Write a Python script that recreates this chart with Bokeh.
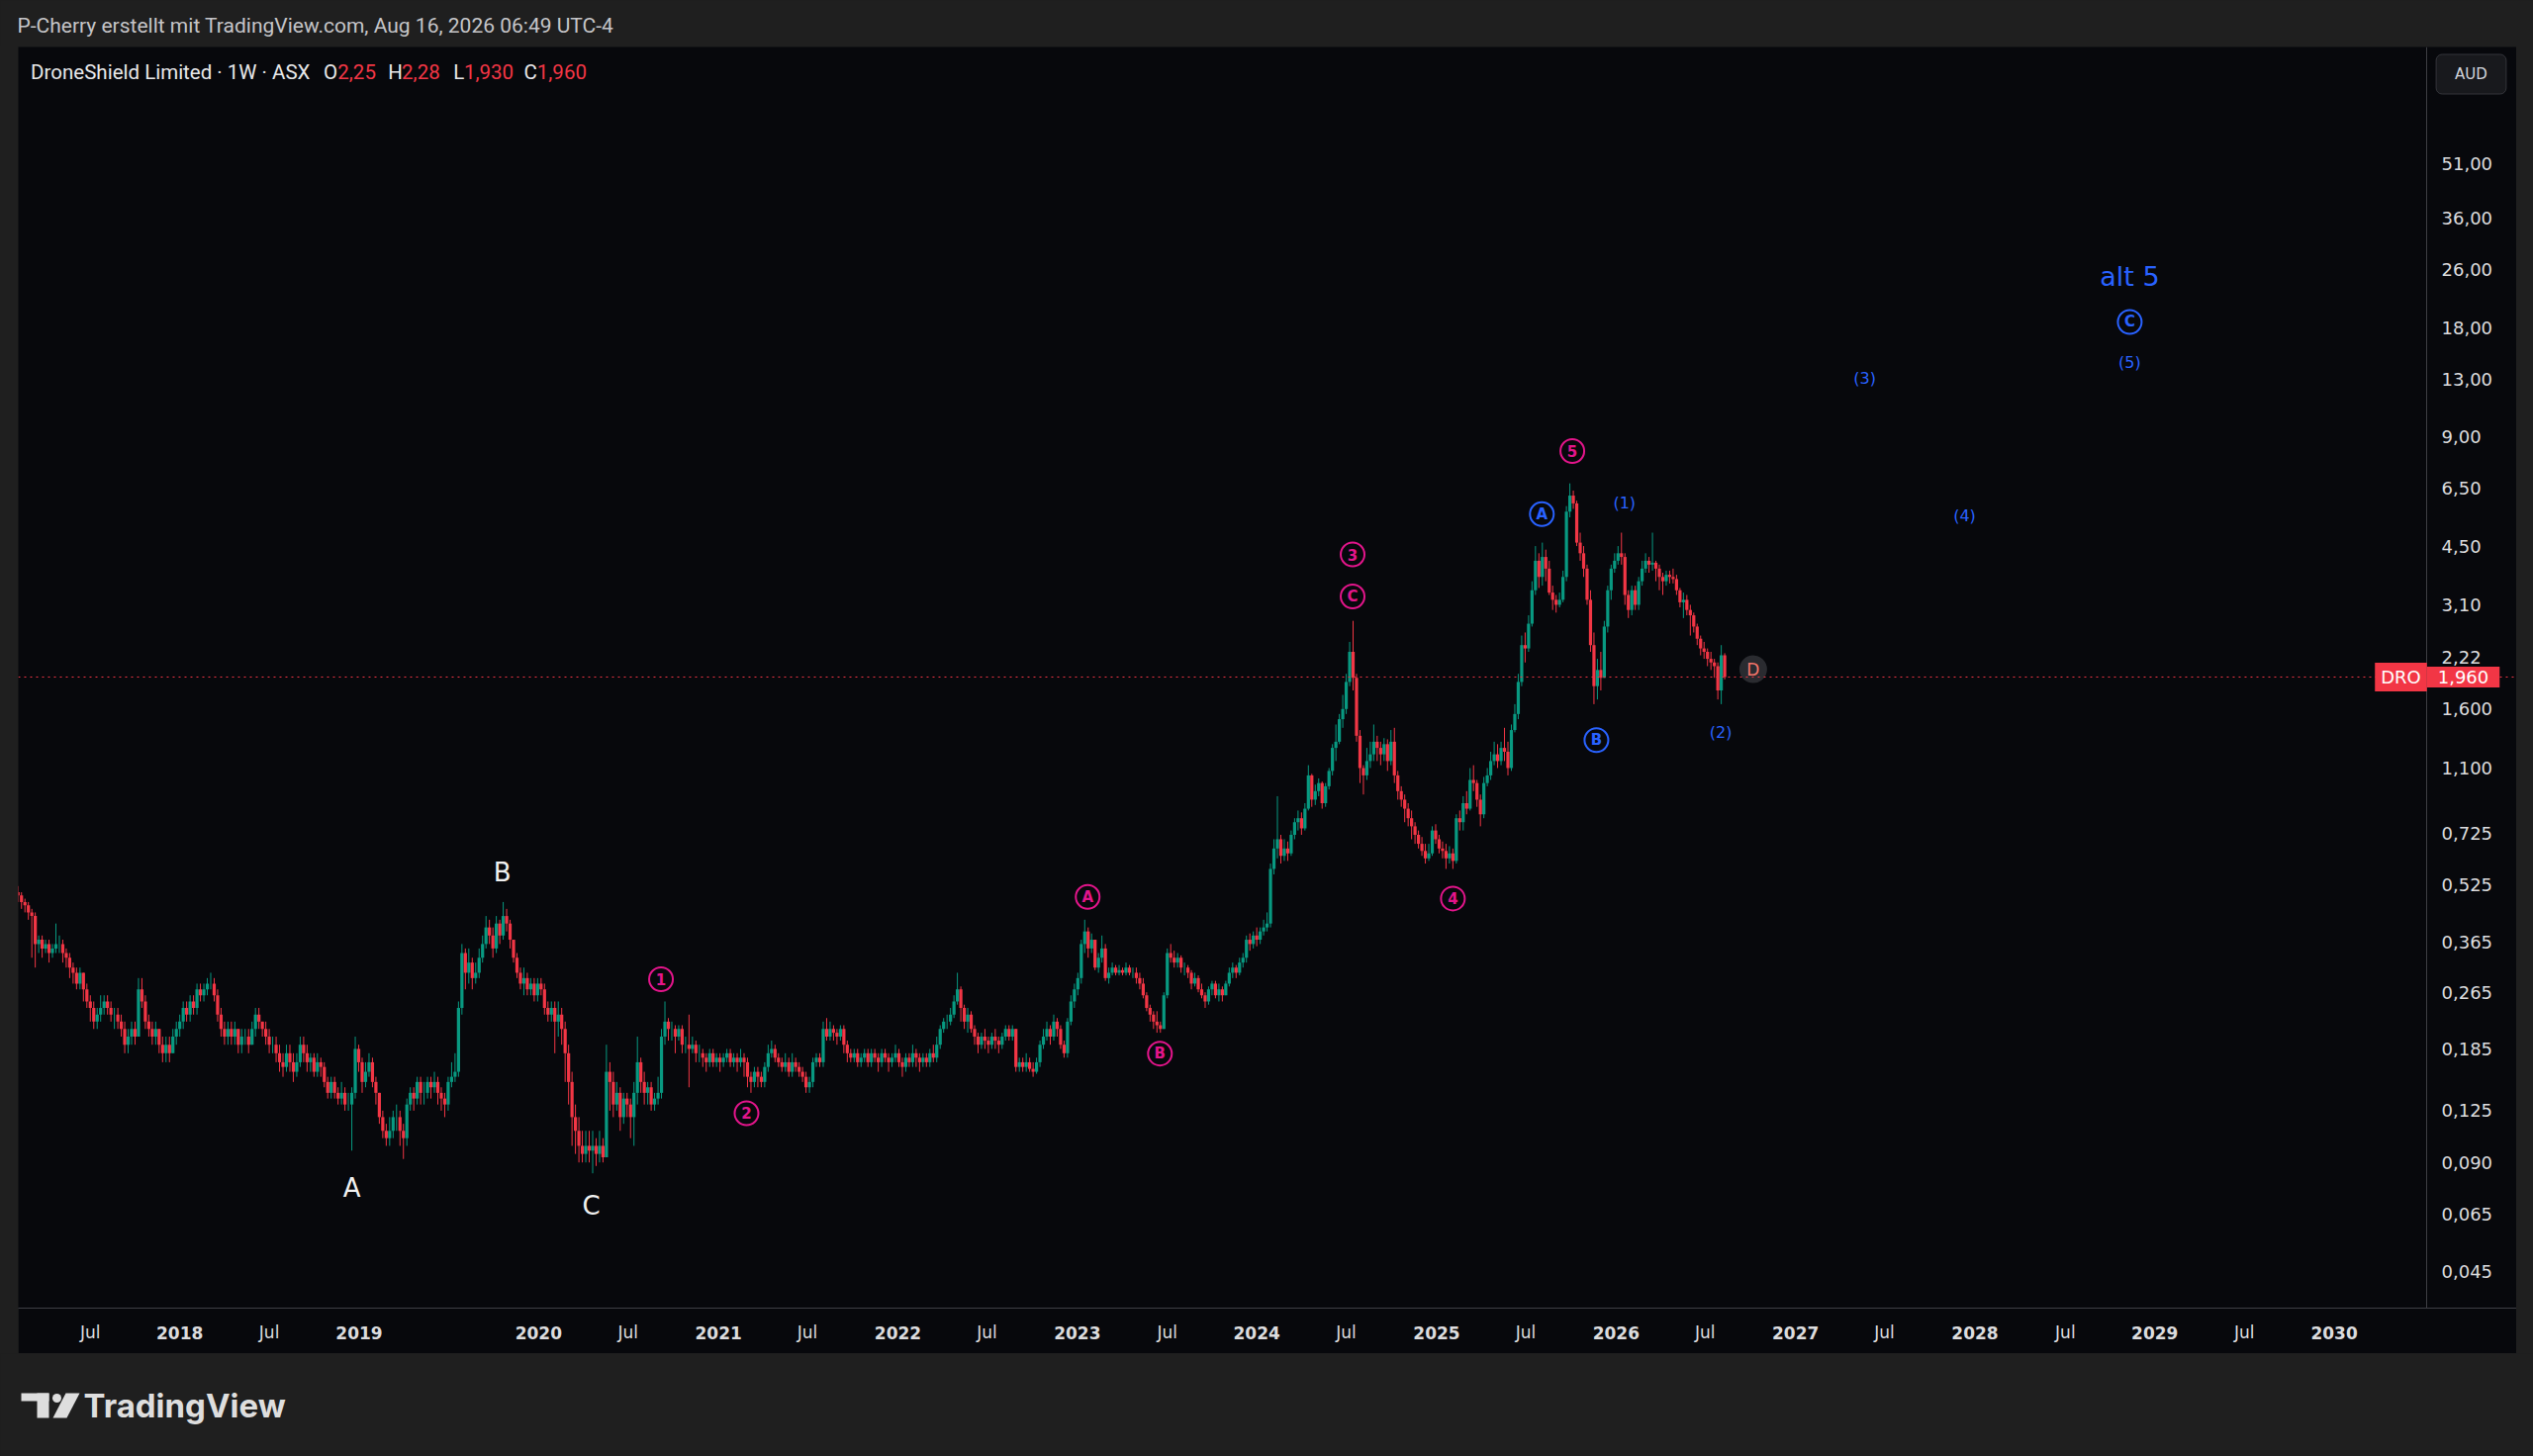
import numpy as np
import pandas as pd
from datetime import datetime
from bokeh.plotting import figure
from bokeh.models import (Range1d, FixedTicker, Span, Label, Spacer, ColumnDataSource,
                          DatetimeAxis)
from bokeh.layouts import column, row
from bokeh.embed import file_html
from bokeh.resources import INLINE
from bokeh.core.properties import value

# ---------------- data (weekly candles, DRO) ----------------
last_bar_date = "2026-08-10"
first_open = 0.50
closes = [
    0.49, 0.47, 0.46, 0.44, 0.43, 0.36, 0.37, 0.35, 0.36, 0.34, 0.35, 0.36,
    0.36, 0.34, 0.33, 0.31, 0.30, 0.28, 0.30, 0.27, 0.25, 0.24, 0.22, 0.23,
    0.24, 0.25, 0.24, 0.23, 0.23, 0.22, 0.21, 0.19, 0.20, 0.21, 0.20, 0.27,
    0.25, 0.22, 0.21, 0.20, 0.21, 0.19, 0.18, 0.19, 0.18, 0.20, 0.21, 0.22,
    0.24, 0.23, 0.25, 0.24, 0.27, 0.26, 0.27, 0.28, 0.28, 0.26, 0.23, 0.21,
    0.20, 0.21, 0.20, 0.21, 0.19, 0.20, 0.20, 0.19, 0.21, 0.23, 0.22, 0.21,
    0.20, 0.19, 0.19, 0.18, 0.17, 0.165, 0.18, 0.17, 0.16, 0.17, 0.19, 0.18,
    0.17, 0.175, 0.16, 0.17, 0.165, 0.15, 0.14, 0.15, 0.14, 0.135, 0.14, 0.13,
    0.13, 0.14, 0.185, 0.17, 0.15, 0.16, 0.17, 0.15, 0.14, 0.12, 0.11, 0.105,
    0.11, 0.12, 0.12, 0.11, 0.105, 0.13, 0.14, 0.135, 0.15, 0.14, 0.14, 0.15,
    0.145, 0.15, 0.14, 0.135, 0.13, 0.15, 0.155, 0.16, 0.24, 0.34, 0.30, 0.32,
    0.29, 0.30, 0.33, 0.36, 0.40, 0.38, 0.35, 0.41, 0.38, 0.43, 0.41, 0.37,
    0.33, 0.30, 0.28, 0.29, 0.27, 0.28, 0.26, 0.28, 0.27, 0.24, 0.23, 0.24,
    0.22, 0.23, 0.21, 0.18, 0.15, 0.12, 0.11, 0.10, 0.095, 0.10, 0.097, 0.10,
    0.095, 0.10, 0.093, 0.16, 0.15, 0.13, 0.14, 0.12, 0.135, 0.13, 0.12, 0.14,
    0.17, 0.15, 0.14, 0.145, 0.13, 0.135, 0.14, 0.20, 0.22, 0.21, 0.21, 0.20,
    0.21, 0.19, 0.19, 0.185, 0.19, 0.18, 0.18, 0.175, 0.17, 0.18, 0.17, 0.175,
    0.17, 0.175, 0.18, 0.17, 0.175, 0.17, 0.175, 0.17, 0.155, 0.15, 0.16, 0.155,
    0.15, 0.165, 0.18, 0.185, 0.175, 0.17, 0.165, 0.17, 0.16, 0.17, 0.165, 0.16,
    0.155, 0.145, 0.15, 0.17, 0.175, 0.17, 0.21, 0.20, 0.21, 0.205, 0.20, 0.21,
    0.19, 0.18, 0.175, 0.18, 0.17, 0.175, 0.18, 0.17, 0.18, 0.175, 0.17, 0.18,
    0.175, 0.17, 0.175, 0.18, 0.17, 0.165, 0.175, 0.17, 0.18, 0.175, 0.17, 0.175,
    0.17, 0.18, 0.175, 0.19, 0.21, 0.22, 0.22, 0.23, 0.25, 0.27, 0.24, 0.22,
    0.23, 0.21, 0.20, 0.19, 0.20, 0.195, 0.19, 0.20, 0.195, 0.19, 0.20, 0.21,
    0.20, 0.21, 0.165, 0.17, 0.165, 0.17, 0.163, 0.16, 0.17, 0.19, 0.20, 0.21,
    0.20, 0.22, 0.21, 0.19, 0.18, 0.22, 0.25, 0.27, 0.29, 0.36, 0.39, 0.35,
    0.37, 0.31, 0.33, 0.35, 0.29, 0.30, 0.31, 0.30, 0.305, 0.30, 0.31, 0.30,
    0.30, 0.29, 0.28, 0.26, 0.24, 0.23, 0.22, 0.215, 0.21, 0.26, 0.34, 0.33,
    0.32, 0.33, 0.31, 0.31, 0.30, 0.28, 0.29, 0.27, 0.26, 0.25, 0.27, 0.28,
    0.26, 0.27, 0.26, 0.28, 0.30, 0.31, 0.30, 0.32, 0.33, 0.37, 0.36, 0.38,
    0.37, 0.39, 0.40, 0.41, 0.58, 0.66, 0.70, 0.63, 0.66, 0.64, 0.72, 0.78,
    0.80, 0.75, 0.85, 1.05, 0.90, 0.95, 1.00, 0.88, 0.98, 1.08, 1.25, 1.30,
    1.50, 1.60, 1.90, 2.30, 1.95, 1.35, 1.10, 1.05, 1.15, 1.20, 1.30, 1.25,
    1.20, 1.28, 1.15, 1.30, 1.05, 0.95, 0.90, 0.85, 0.80, 0.76, 0.72, 0.68,
    0.65, 0.62, 0.64, 0.74, 0.70, 0.66, 0.65, 0.62, 0.64, 0.61, 0.80, 0.78,
    0.88, 0.85, 1.02, 1.00, 0.90, 0.82, 1.00, 1.05, 1.15, 1.20, 1.15, 1.25,
    1.22, 1.10, 1.40, 1.55, 1.90, 2.40, 2.35, 2.75, 3.40, 4.10, 3.70, 4.20,
    3.90, 3.35, 3.20, 3.10, 3.20, 3.70, 5.60, 6.20, 5.90, 4.60, 4.30, 3.90,
    3.20, 2.40, 1.85, 2.05, 1.95, 2.70, 3.40, 3.90, 4.10, 4.30, 4.20, 3.30,
    3.00, 3.40, 3.10, 3.60, 3.90, 4.10, 4.00, 4.05, 3.90, 3.70, 3.60, 3.75,
    3.70, 3.65, 3.40, 3.15, 3.20, 3.00, 2.90, 2.70, 2.50, 2.35, 2.30, 2.20,
    2.15, 2.10, 1.80, 2.25, 1.96,
]
highs = [
    0.52, 0.50, 0.48, 0.47, 0.45, 0.44, 0.38, 0.38, 0.37, 0.37, 0.36, 0.41,
    0.38, 0.37, 0.35, 0.34, 0.32, 0.31, 0.31, 0.30, 0.28, 0.26, 0.25, 0.24,
    0.26, 0.26, 0.26, 0.25, 0.24, 0.24, 0.23, 0.22, 0.21, 0.22, 0.22, 0.29,
    0.29, 0.26, 0.23, 0.22, 0.22, 0.21, 0.20, 0.20, 0.20, 0.21, 0.22, 0.23,
    0.25, 0.25, 0.26, 0.26, 0.28, 0.28, 0.28, 0.29, 0.30, 0.29, 0.27, 0.24,
    0.22, 0.22, 0.22, 0.22, 0.21, 0.21, 0.21, 0.21, 0.22, 0.24, 0.24, 0.22,
    0.22, 0.21, 0.20, 0.20, 0.19, 0.18, 0.19, 0.19, 0.18, 0.18, 0.20, 0.20,
    0.19, 0.18, 0.18, 0.18, 0.175, 0.17, 0.155, 0.155, 0.155, 0.145, 0.15, 0.145,
    0.14, 0.145, 0.20, 0.19, 0.175, 0.17, 0.18, 0.175, 0.155, 0.14, 0.125, 0.115,
    0.12, 0.125, 0.13, 0.125, 0.115, 0.135, 0.145, 0.145, 0.155, 0.155, 0.15, 0.155,
    0.155, 0.16, 0.155, 0.145, 0.14, 0.155, 0.17, 0.18, 0.25, 0.36, 0.35, 0.35,
    0.33, 0.32, 0.35, 0.38, 0.43, 0.42, 0.40, 0.43, 0.42, 0.47, 0.45, 0.42,
    0.37, 0.34, 0.31, 0.31, 0.30, 0.29, 0.29, 0.29, 0.29, 0.28, 0.25, 0.25,
    0.25, 0.25, 0.24, 0.22, 0.19, 0.16, 0.13, 0.12, 0.11, 0.11, 0.11, 0.11,
    0.105, 0.11, 0.105, 0.19, 0.17, 0.16, 0.15, 0.145, 0.14, 0.14, 0.135, 0.15,
    0.20, 0.175, 0.16, 0.15, 0.15, 0.14, 0.155, 0.21, 0.25, 0.225, 0.22, 0.215,
    0.215, 0.215, 0.20, 0.23, 0.20, 0.195, 0.19, 0.185, 0.18, 0.185, 0.185, 0.18,
    0.18, 0.18, 0.185, 0.185, 0.18, 0.18, 0.185, 0.18, 0.175, 0.16, 0.165, 0.165,
    0.16, 0.17, 0.19, 0.195, 0.19, 0.18, 0.175, 0.18, 0.175, 0.18, 0.175, 0.17,
    0.165, 0.16, 0.155, 0.175, 0.18, 0.18, 0.22, 0.225, 0.22, 0.215, 0.21, 0.215,
    0.215, 0.195, 0.185, 0.185, 0.185, 0.18, 0.185, 0.185, 0.185, 0.185, 0.18, 0.185,
    0.185, 0.18, 0.18, 0.19, 0.185, 0.175, 0.18, 0.18, 0.19, 0.185, 0.18, 0.18,
    0.18, 0.185, 0.19, 0.20, 0.215, 0.225, 0.23, 0.24, 0.26, 0.30, 0.275, 0.245,
    0.24, 0.235, 0.215, 0.205, 0.205, 0.21, 0.20, 0.205, 0.21, 0.20, 0.205, 0.215,
    0.215, 0.215, 0.21, 0.175, 0.175, 0.18, 0.175, 0.17, 0.175, 0.195, 0.21, 0.22,
    0.215, 0.23, 0.225, 0.215, 0.195, 0.225, 0.26, 0.28, 0.30, 0.37, 0.42, 0.40,
    0.385, 0.37, 0.34, 0.38, 0.36, 0.31, 0.32, 0.315, 0.315, 0.31, 0.32, 0.315,
    0.31, 0.31, 0.30, 0.29, 0.265, 0.245, 0.235, 0.235, 0.22, 0.265, 0.35, 0.36,
    0.345, 0.34, 0.335, 0.32, 0.315, 0.305, 0.30, 0.295, 0.28, 0.265, 0.275, 0.285,
    0.285, 0.28, 0.275, 0.285, 0.31, 0.32, 0.315, 0.33, 0.34, 0.38, 0.385, 0.39,
    0.40, 0.40, 0.42, 0.44, 0.60, 0.70, 0.92, 0.72, 0.70, 0.69, 0.74, 0.80,
    0.84, 0.83, 0.88, 1.12, 1.06, 0.99, 1.03, 1.01, 1.00, 1.10, 1.28, 1.45,
    1.55, 1.75, 2.00, 2.45, 2.80, 2.00, 1.40, 1.12, 1.25, 1.30, 1.45, 1.35,
    1.30, 1.33, 1.32, 1.40, 1.42, 1.08, 0.98, 0.93, 0.88, 0.84, 0.78, 0.74,
    0.71, 0.68, 0.68, 0.76, 0.77, 0.72, 0.69, 0.68, 0.67, 0.66, 0.82, 0.84,
    0.92, 0.95, 1.10, 1.12, 1.02, 0.93, 1.04, 1.10, 1.22, 1.30, 1.28, 1.30,
    1.42, 1.30, 1.45, 1.65, 2.00, 2.55, 2.60, 2.90, 3.60, 4.50, 4.30, 4.60,
    4.40, 4.10, 3.50, 3.30, 3.35, 3.85, 5.80, 6.70, 6.40, 6.00, 4.90, 4.50,
    4.00, 3.40, 2.60, 2.20, 2.30, 2.80, 3.50, 4.00, 4.30, 4.50, 4.90, 4.30,
    3.40, 3.50, 3.50, 3.70, 4.10, 4.30, 4.20, 4.90, 4.10, 4.00, 3.80, 3.85,
    3.85, 3.90, 3.75, 3.45, 3.35, 3.30, 3.10, 2.95, 2.75, 2.55, 2.45, 2.35,
    2.30, 2.20, 2.15, 2.40, 2.28,
]
lows = [
    0.47, 0.45, 0.44, 0.42, 0.33, 0.31, 0.34, 0.33, 0.34, 0.32, 0.33, 0.34,
    0.34, 0.32, 0.31, 0.29, 0.28, 0.27, 0.27, 0.25, 0.24, 0.22, 0.21, 0.21,
    0.22, 0.23, 0.23, 0.22, 0.21, 0.21, 0.20, 0.18, 0.18, 0.19, 0.19, 0.20,
    0.24, 0.21, 0.20, 0.19, 0.19, 0.18, 0.17, 0.17, 0.17, 0.18, 0.19, 0.20,
    0.21, 0.22, 0.22, 0.23, 0.23, 0.25, 0.25, 0.26, 0.27, 0.25, 0.22, 0.20,
    0.19, 0.19, 0.19, 0.19, 0.18, 0.18, 0.19, 0.18, 0.19, 0.20, 0.21, 0.20,
    0.19, 0.18, 0.18, 0.17, 0.16, 0.155, 0.16, 0.16, 0.15, 0.155, 0.165, 0.17,
    0.16, 0.16, 0.155, 0.155, 0.155, 0.145, 0.135, 0.135, 0.135, 0.13, 0.13, 0.125,
    0.125, 0.097, 0.135, 0.16, 0.14, 0.145, 0.155, 0.145, 0.13, 0.115, 0.105, 0.10,
    0.10, 0.105, 0.11, 0.10, 0.092, 0.10, 0.125, 0.125, 0.13, 0.13, 0.13, 0.135,
    0.135, 0.14, 0.13, 0.125, 0.12, 0.125, 0.145, 0.15, 0.155, 0.23, 0.27, 0.28,
    0.27, 0.28, 0.29, 0.32, 0.35, 0.36, 0.33, 0.34, 0.36, 0.37, 0.39, 0.35,
    0.32, 0.29, 0.27, 0.26, 0.26, 0.26, 0.25, 0.25, 0.26, 0.23, 0.22, 0.22,
    0.18, 0.20, 0.19, 0.15, 0.13, 0.10, 0.095, 0.09, 0.09, 0.09, 0.09, 0.084,
    0.088, 0.09, 0.09, 0.093, 0.125, 0.12, 0.125, 0.11, 0.115, 0.12, 0.105, 0.10,
    0.13, 0.14, 0.13, 0.13, 0.125, 0.125, 0.13, 0.135, 0.19, 0.195, 0.195, 0.18,
    0.195, 0.18, 0.18, 0.145, 0.18, 0.17, 0.17, 0.165, 0.16, 0.165, 0.165, 0.165,
    0.16, 0.165, 0.17, 0.165, 0.165, 0.16, 0.165, 0.155, 0.145, 0.14, 0.145, 0.145,
    0.145, 0.145, 0.16, 0.175, 0.17, 0.165, 0.16, 0.16, 0.155, 0.155, 0.16, 0.155,
    0.15, 0.14, 0.14, 0.145, 0.165, 0.165, 0.165, 0.195, 0.195, 0.195, 0.19, 0.195,
    0.18, 0.17, 0.17, 0.17, 0.165, 0.165, 0.17, 0.165, 0.165, 0.17, 0.16, 0.165,
    0.17, 0.16, 0.165, 0.17, 0.165, 0.155, 0.16, 0.165, 0.165, 0.165, 0.16, 0.165,
    0.165, 0.165, 0.17, 0.17, 0.185, 0.205, 0.21, 0.215, 0.225, 0.245, 0.22, 0.21,
    0.205, 0.205, 0.19, 0.18, 0.185, 0.185, 0.18, 0.185, 0.185, 0.18, 0.185, 0.195,
    0.195, 0.195, 0.16, 0.16, 0.16, 0.16, 0.16, 0.155, 0.158, 0.165, 0.185, 0.195,
    0.19, 0.195, 0.20, 0.185, 0.175, 0.175, 0.215, 0.24, 0.26, 0.28, 0.34, 0.33,
    0.34, 0.305, 0.30, 0.32, 0.285, 0.28, 0.295, 0.295, 0.295, 0.295, 0.295, 0.295,
    0.29, 0.28, 0.27, 0.255, 0.235, 0.22, 0.21, 0.205, 0.205, 0.21, 0.255, 0.32,
    0.31, 0.31, 0.30, 0.295, 0.29, 0.27, 0.275, 0.265, 0.255, 0.24, 0.245, 0.26,
    0.255, 0.25, 0.25, 0.26, 0.275, 0.29, 0.29, 0.295, 0.31, 0.32, 0.345, 0.35,
    0.355, 0.36, 0.38, 0.39, 0.40, 0.56, 0.62, 0.60, 0.61, 0.61, 0.63, 0.70,
    0.74, 0.72, 0.74, 0.84, 0.86, 0.87, 0.92, 0.85, 0.86, 0.96, 1.05, 1.15,
    1.28, 1.42, 1.55, 1.85, 1.80, 1.30, 1.00, 0.93, 1.02, 1.10, 1.15, 1.15,
    1.12, 1.15, 1.08, 1.12, 1.00, 0.90, 0.86, 0.78, 0.76, 0.70, 0.68, 0.66,
    0.63, 0.60, 0.61, 0.63, 0.68, 0.64, 0.62, 0.58, 0.60, 0.58, 0.60, 0.74,
    0.74, 0.82, 0.84, 0.95, 0.86, 0.76, 0.80, 0.98, 1.02, 1.12, 1.10, 1.12,
    1.15, 1.05, 1.08, 1.38, 1.50, 1.85, 2.15, 2.30, 2.70, 3.30, 3.45, 3.50,
    3.60, 3.30, 3.00, 2.95, 3.05, 3.15, 3.60, 5.40, 5.70, 4.50, 4.10, 3.70,
    3.10, 2.30, 1.65, 1.70, 1.80, 1.95, 2.60, 3.20, 3.80, 4.00, 4.00, 3.10,
    2.85, 2.90, 3.00, 3.00, 3.50, 3.80, 3.80, 3.85, 3.60, 3.40, 3.30, 3.50,
    3.55, 3.55, 3.30, 3.05, 2.85, 2.90, 2.55, 2.60, 2.40, 2.25, 2.20, 2.10,
    2.05, 1.95, 1.70, 1.65, 1.93,
]
last_price = 1.96

price_ticks = [51.0, 36.0, 26.0, 18.0, 13.0, 9.0, 6.5, 4.5, 3.1, 2.22, 1.6, 1.1,
               0.725, 0.525, 0.365, 0.265, 0.185, 0.125, 0.09, 0.065, 0.045]
price_tick_labels = ["51,00", "36,00", "26,00", "18,00", "13,00", "9,00", "6,50", "4,50",
                     "3,10", "2,22", "1,600", "1,100", "0,725", "0,525", "0,365", "0,265",
                     "0,185", "0,125", "0,090", "0,065", "0,045"]
year_tick_dates = ["2018-01-01", "2019-01-01", "2020-01-01", "2021-01-01", "2022-01-01",
                   "2023-01-01", "2024-01-01", "2025-01-01", "2026-01-01", "2027-01-01",
                   "2028-01-01", "2029-01-01", "2030-01-01"]
year_tick_labels = ["2018", "2019", "2020", "2021", "2022", "2023", "2024", "2025", "2026",
                    "2027", "2028", "2029", "2030"]
month_tick_dates = ["2017-07-03", "2018-07-02", "2020-07-01", "2021-07-01", "2022-07-01",
                    "2023-07-03", "2024-07-01", "2025-07-01", "2026-07-01", "2027-07-01",
                    "2028-07-03", "2029-07-02"]
month_tick_labels = ["Jul"] * len(month_tick_dates)

# Elliott-wave annotations
circ_text = ["1", "2", "A", "B", "3", "C", "4", "5", "A", "B", "C"]
circ_date = ["2020-09-06", "2021-02-27", "2023-01-22", "2023-06-18", "2024-07-14", "2024-07-14",
             "2025-02-03", "2025-10-04", "2025-08-03", "2025-11-22", "2028-11-11"]
circ_price = [0.288, 0.123, 0.4855, 0.1796, 4.267, 3.268, 0.4806, 8.226, 5.513, 1.313, 18.67]
circ_group = ["pink"] * 8 + ["blue"] * 3

wave_text = ["A", "B", "C", "(1)", "(2)", "(3)", "(4)", "(5)"]
wave_date = ["2018-12-17", "2019-10-19", "2020-04-17", "2026-01-18", "2026-08-02",
             "2027-05-22", "2027-12-11", "2028-11-11"]
wave_price = [0.0767, 0.5662, 0.0685, 5.925, 1.382, 13.04, 5.458, 14.45]
wave_group = ["white", "white", "white", "blue", "blue", "blue", "blue", "blue"]

alt_text = "alt 5"
alt_date = "2028-11-11"
alt_price = 24.88
div_date = "2026-10-07"
div_price = 2.06

header_text = "P-Cherry erstellt mit TradingView.com, Aug 16, 2026 06:49 UTC-4"
legend_parts = ["DroneShield Limited · 1W · ASX", "O", "2,25", "H", "2,28", "L", "1,930", "C", "1,960"]
legend_is_value = [False, False, True, False, True, False, True, False, True]

# ---------------- styling / layout constants ----------------
OUTER = "#1f1f1f"
PANEL = "#07080c"
UP = "#089981"
DOWN = "#f23645"
PINK = "#e3158b"
BLUE = "#2962ff"
WHITE = "#f0f0f0"
AXIS_TXT = "#dcdcde"
AXIS_LINE = "#3d3e44"
group_color = {"pink": PINK, "blue": BLUE, "white": WHITE}

PAGE_W, PAGE_H = 2560, 1472
HDR_H = 47
PANEL_L, PANEL_R = 18, 2543
CHART_W = 2434          # price-chart part of the panel (the rest is the price scale strip)
STRIP_W = PANEL_R - PANEL_L - CHART_W
FIG_W = PANEL_R - PANEL_L
FIG_H = 1321
AX_B = 46
FRAME_H = FIG_H - AX_B
FTR_H = PAGE_H - HDR_H - FIG_H

# ---------------- candles ----------------
N = min(len(closes), len(highs), len(lows))
c = np.array(closes[:N], dtype=float)
hh = np.array(highs[:N], dtype=float)
ll = np.array(lows[:N], dtype=float)
o = np.concatenate([[first_open], c[:-1]])
hh = np.maximum(hh, np.maximum(o, c))
ll = np.minimum(ll, np.minimum(o, c))
dates = pd.date_range(end=last_bar_date, periods=N, freq="7D")
up = c >= o
src = ColumnDataSource(dict(x=dates, h=hh, l=ll, top=np.maximum(o, c), bot=np.minimum(o, c),
                            col=np.where(up, UP, DOWN)))

x_start = datetime(2017, 2, 6, 12)
x_sep = datetime(2030, 7, 8)            # date at the price-scale separator
x_end = x_sep + (x_sep - x_start) * STRIP_W / CHART_W

p = figure(width=FIG_W, height=FIG_H, x_axis_type="datetime", y_axis_type="log",
           x_range=Range1d(x_start, x_end), y_range=Range1d(0.0357, 106.9),
           y_axis_location="right", toolbar_location=None, output_backend="svg",
           background_fill_color=PANEL, border_fill_color=PANEL, outline_line_color=None,
           min_border_left=0, min_border_top=0, min_border_right=0, min_border_bottom=AX_B)
p.grid.visible = False

p.segment(x0="x", y0="l", x1="x", y1="h", line_color="col", line_width=1, source=src)
p.vbar(x="x", width=6.5 * 24 * 3600 * 1000, top="top", bottom="bot",
       fill_color="col", line_color=None, source=src)

p.add_layout(Span(location=last_price, dimension="width", line_color=DOWN,
                  line_width=1, line_dash="2 4"))
p.add_layout(Span(location=x_sep, dimension="height", line_color=AXIS_LINE, line_width=1))

# price axis (labels drawn into the price-scale strip)
p.yaxis.ticker = FixedTicker(ticks=price_ticks)
p.yaxis.major_label_overrides = {float(v): s for v, s in zip(price_ticks, price_tick_labels)}
p.yaxis.major_tick_line_color = None
p.yaxis.minor_tick_line_color = None
p.yaxis.major_tick_out = 0
p.yaxis.major_tick_in = 0
p.yaxis.minor_tick_out = 0
p.yaxis.minor_tick_in = 0
p.yaxis.axis_line_color = None
p.yaxis.major_label_text_color = AXIS_TXT
p.yaxis.major_label_text_font = "DejaVu Sans"
p.yaxis.major_label_text_font_size = "18px"
p.yaxis.major_label_standoff = -(STRIP_W - 15)

# time axis: years (bold) and months (regular) on the same row
def ms(d):
    return float(pd.Timestamp(d).value // 10**6)

year_ms = [ms(d) for d in year_tick_dates]
month_ms = [ms(d) for d in month_tick_dates]
xa = p.xaxis[0]
xa.ticker = FixedTicker(ticks=year_ms)
xa.major_label_overrides = {m: s for m, s in zip(year_ms, year_tick_labels)}
xa2 = DatetimeAxis(ticker=FixedTicker(ticks=month_ms),
                   major_label_overrides={m: s for m, s in zip(month_ms, month_tick_labels)})
p.add_layout(xa2, "below")
for ax, style, stand in ((xa, "bold", 18), (xa2, "normal", -20)):
    ax.major_tick_line_color = None
    ax.minor_tick_line_color = None
    ax.major_tick_out = 0
    ax.major_tick_in = 0
    ax.minor_tick_out = 0
    ax.minor_tick_in = 0
    ax.major_label_text_color = AXIS_TXT
    ax.major_label_text_font = "DejaVu Sans"
    ax.major_label_text_font_style = style
    ax.major_label_text_font_size = "17px"
    ax.major_label_standoff = stand
xa.axis_line_color = AXIS_LINE
xa2.axis_line_color = None

# circled wave labels
csrc = ColumnDataSource(dict(x=pd.to_datetime(circ_date), y=circ_price, t=circ_text,
                             col=[group_color[g] for g in circ_group]))
p.scatter(x="x", y="y", source=csrc, marker="circle", size=24, fill_color=None,
          line_color="col", line_width=2)
p.text(x="x", y="y", text="t", source=csrc, text_color="col", text_align="center",
       text_baseline="middle", text_font=value("DejaVu Sans"), text_font_style="bold",
       text_font_size=value("15px"))

# plain wave labels
wsrc = ColumnDataSource(dict(x=pd.to_datetime(wave_date), y=wave_price, t=wave_text,
                             col=[group_color[g] for g in wave_group],
                             fs=["26px" if g == "white" else "16px" for g in wave_group]))
p.text(x="x", y="y", text="t", source=wsrc, text_color="col", text_align="center",
       text_baseline="middle", text_font=value("DejaVu Sans"), text_font_size="fs")

p.text(x=[pd.Timestamp(alt_date)], y=[alt_price], text=[alt_text], text_color=BLUE,
       text_align="center", text_baseline="middle", text_font=value("DejaVu Sans"),
       text_font_size=value("27px"))

# dividend marker
p.scatter(x=[pd.Timestamp(div_date)], y=[div_price], marker="circle", size=28,
          fill_color="#2a2b30", line_color=None)
p.text(x=[pd.Timestamp(div_date)], y=[div_price], text=["D"], text_color="#f4756b",
       text_align="center", text_baseline="middle", text_font=value("DejaVu Sans"),
       text_font_size=value("17px"))

# legend line
legend_x = [12.6, 308.5, 322.8, 373.8, 387.6, 439.7, 450.4, 511.0, 524.3]
for txt, xx, isv in zip(legend_parts, legend_x, legend_is_value):
    p.add_layout(Label(x=xx, y=FRAME_H - 25, x_units="screen", y_units="screen", text=txt,
                       text_color=DOWN if isv else "#e8e8ea", text_font="Roboto",
                       text_font_size="20.5px", text_baseline="middle"))

# last-price tag
p.add_layout(Label(x=2408, y=last_price, x_units="screen", y_units="data", text="DRO",
                   text_color="white", text_font="DejaVu Sans", text_font_size="18px",
                   text_align="center", text_baseline="middle",
                   background_fill_color=DOWN, padding=(6, 4)))
p.add_layout(Label(x=2471, y=last_price, x_units="screen", y_units="data", text="1,960",
                   text_color="white", text_font="DejaVu Sans", text_font_size="18px",
                   text_align="center", text_baseline="middle",
                   background_fill_color=DOWN, padding=(11, 4)))
# currency button
p.add_layout(Label(x=2479, y=FRAME_H - 27.5, x_units="screen", y_units="screen", text="AUD",
                   text_color="#d1d4dc", text_font="DejaVu Sans", text_font_size="15px",
                   text_align="center", text_baseline="middle",
                   background_fill_color="#18191d", border_line_color="#34353b",
                   border_line_width=1, padding=(19, 11), border_radius=6))

# ---------------- header & footer ----------------
hdr = figure(width=PAGE_W, height=HDR_H, x_range=Range1d(0, PAGE_W), y_range=Range1d(0, HDR_H),
             toolbar_location=None, output_backend="svg", x_axis_location=None,
             y_axis_location=None, background_fill_color=OUTER, border_fill_color=OUTER,
             outline_line_color=None, min_border=0)
hdr.grid.visible = False
hdr.text(x=[17], y=[22], text=[header_text], text_color="#c5c5c8", text_baseline="middle",
         text_font=value("Roboto"), text_font_size=value("21px"))

ftr = figure(width=PAGE_W, height=FTR_H, x_range=Range1d(0, PAGE_W), y_range=Range1d(0, FTR_H),
             toolbar_location=None, output_backend="svg", x_axis_location=None,
             y_axis_location=None, background_fill_color=OUTER, border_fill_color=OUTER,
             outline_line_color=None, min_border=0)
ftr.grid.visible = False
LOGO = "#dedede"
ftr.quad(left=[21, 37], right=[49, 49], bottom=[56, 39], top=[64, 64], fill_color=LOGO, line_color=None)
ftr.scatter(x=[57], y=[59], size=9, marker="circle", fill_color=LOGO, line_color=None)
ftr.patch(x=[66, 80, 67, 53], y=[64, 64, 39, 39], fill_color=LOGO, line_color=None)
ftr.text(x=[84], y=[52], text=["TradingView"], text_color=LOGO, text_baseline="middle",
         text_font=value("Inter"), text_font_style="bold", text_font_size=value("33px"))

layout = column(hdr,
                row(Spacer(width=PANEL_L, height=FIG_H), p,
                    Spacer(width=PAGE_W - PANEL_R, height=FIG_H)),
                ftr)

html = file_html(layout, INLINE, title="DroneShield Limited")
html = html.replace("</head>",
                    "<style>html,body{margin:0;padding:0;background:%s;}</style></head>" % OUTER, 1)
open("out.html", "w").write(html)
